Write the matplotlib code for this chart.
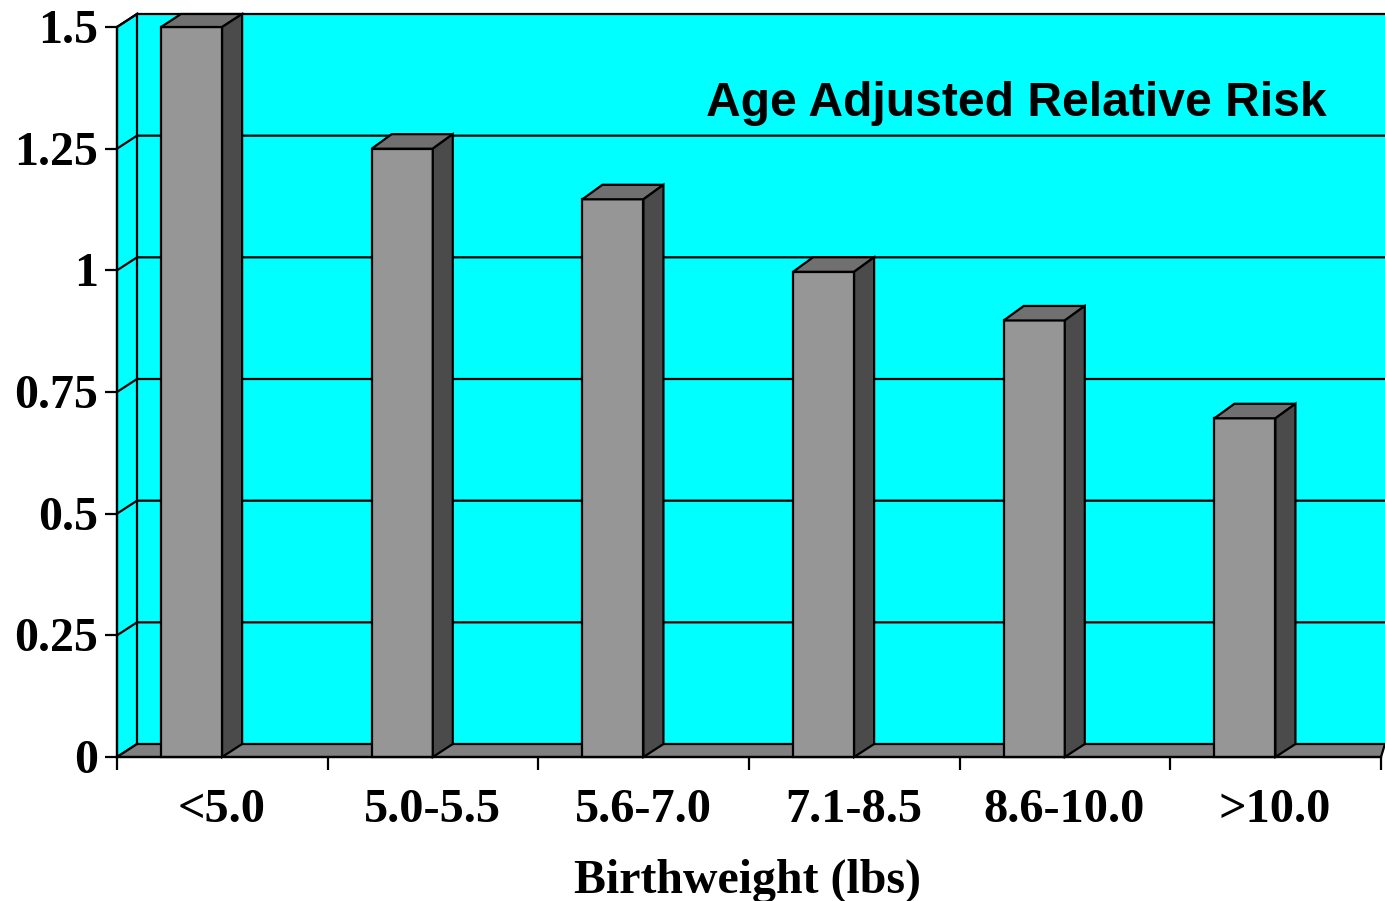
import matplotlib
matplotlib.use('Agg')
import matplotlib.pyplot as plt
from matplotlib.patches import Polygon, Rectangle

categories = ['<5.0', '5.0-5.5', '5.6-7.0', '7.1-8.5', '8.6-10.0', '>10.0']
risk = [1.5, 1.25, 1.146, 0.997, 0.897, 0.696]
ticks = [0, 0.25, 0.5, 0.75, 1, 1.25, 1.5]
tick_labels = ['0', '0.25', '0.5', '0.75', '1', '1.25', '1.5']

W, H = 1385, 901
fig = plt.figure(figsize=(W / 100, H / 100), dpi=100)
fig.patch.set_facecolor('white')

# axes cover the front plane of the 3d box
x0, x1 = 117, 1381
y0, y1 = 757, 27
ax = fig.add_axes([x0 / W, 1 - y0 / H, (x1 - x0) / W, (y0 - y1) / H])
ax.set_xlim(0, 6)
ax.set_ylim(0, 1.5)
ax.patch.set_alpha(0)

dx = 20 / (x1 - x0) * 6
dy = 13 / (y0 - y1) * 1.5
bar_dy = 14.5 / (y0 - y1) * 1.5
right = 6 + 4 / (x1 - x0) * 6
lw = 1.6

# back wall, side wall, floor
ax.add_patch(Rectangle((dx, dy), right - dx, 1.5, fc='#00ffff', ec='none', clip_on=False))
ax.add_patch(Polygon([(0, 0), (dx, dy), (dx, 1.5 + dy), (0, 1.5)], fc='#00ffff', ec='black', lw=lw, clip_on=False))
ax.add_patch(Polygon([(0, 0), (dx, dy), (right, dy), (6, 0)], fc='#808080', ec='black', lw=lw, clip_on=False))
ax.plot([dx, right], [1.5 + dy, 1.5 + dy], color='black', lw=lw, clip_on=False)

for t in ticks[1:-1]:
    ax.plot([0, dx, right], [t, t + dy, t + dy], color='black', lw=lw, clip_on=False)
ax.plot([0, dx], [1.5, 1.5 + dy], color='black', lw=lw, clip_on=False)

bar_w = 0.29
for i, v in enumerate(risk):
    left = i + 0.209
    r = left + bar_w
    top = min(v + bar_dy, 1.5 + dy)  # top face stops at the box lid
    ax.add_patch(Rectangle((left, 0), bar_w, v, fc='#969696', ec='black', lw=lw, clip_on=False, zorder=3))
    ax.add_patch(Polygon([(left, v), (left + dx, top), (r + dx, top), (r, v)], fc='#707070', ec='black', lw=lw, clip_on=False, zorder=3))
    ax.add_patch(Polygon([(r, 0), (r + dx, dy), (r + dx, top), (r, v)], fc='#4b4b4b', ec='black', lw=lw, clip_on=False, zorder=3))

for s in ['top', 'right']:
    ax.spines[s].set_visible(False)
for s in ['left', 'bottom']:
    ax.spines[s].set_linewidth(lw)
    ax.spines[s].set_zorder(4)

ax.set_yticks(ticks)
ax.set_yticklabels([])
ax.set_xticks(range(7))
ax.set_xticklabels([])
ax.tick_params(axis='both', direction='out', length=9, width=lw)

for t, lab in zip(ticks, tick_labels):
    ax.text(-0.09, t - 0.008, lab, ha='right', va='center', family='Liberation Serif', weight='bold', fontsize=34.5, clip_on=False)

for i, c in enumerate(categories):
    ax.text(i + 0.497, -0.108, c, ha='center', va='center', family='Liberation Serif', weight='bold', fontsize=34.8, clip_on=False)

fig.text(748 / W, 1 - 881 / H, 'Birthweight (lbs)', ha='center', va='center', family='Liberation Serif', weight='bold', fontsize=34.5)
fig.text(1016 / W, 1 - 103 / H, 'Age Adjusted Relative Risk', ha='center', va='center', family='Liberation Sans', weight='bold', fontsize=34.6)

fig.savefig('out.png', dpi=100)
